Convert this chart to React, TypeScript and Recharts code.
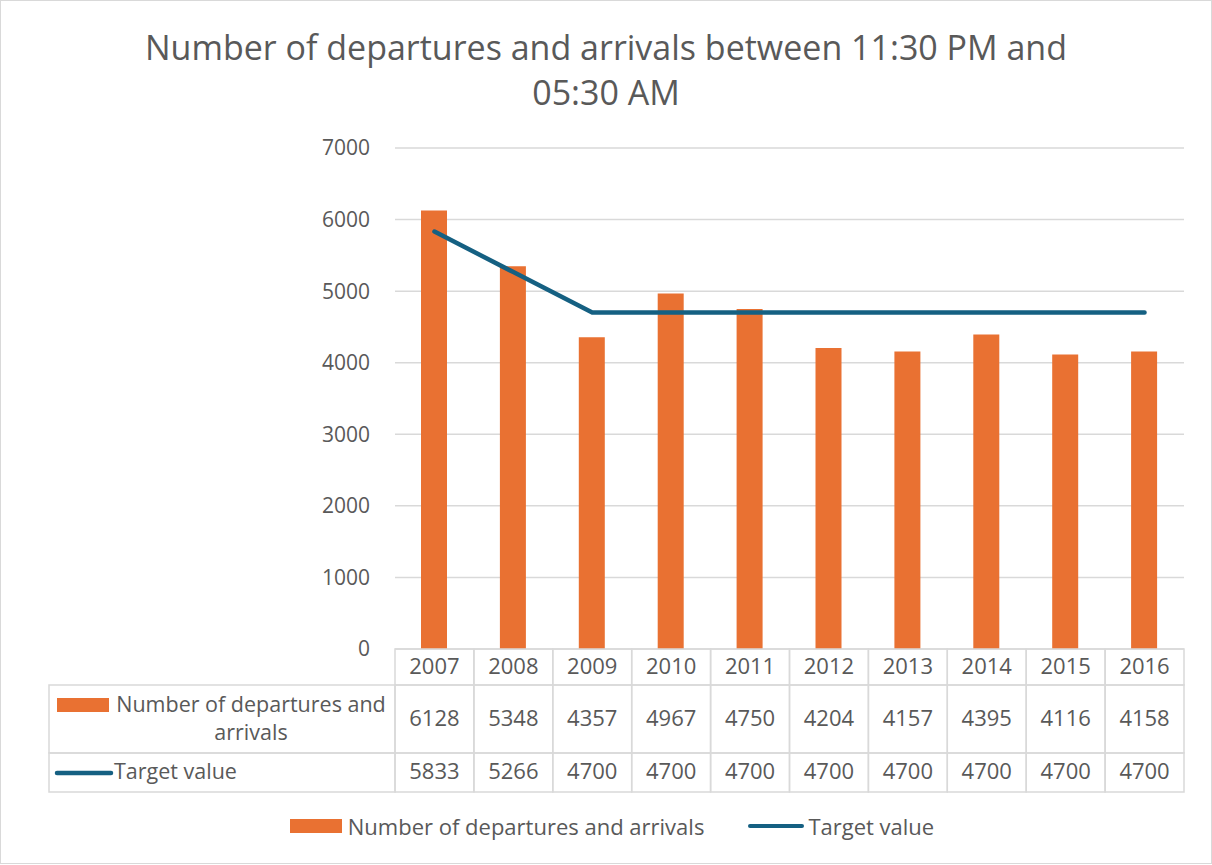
import { Bar, CartesianGrid, ComposedChart, Legend, Line, XAxis, YAxis } from "recharts";

const years = ["2007", "2008", "2009", "2010", "2011", "2012", "2013", "2014", "2015", "2016"];
const departuresArrivals = [6128, 5348, 4357, 4967, 4750, 4204, 4157, 4395, 4116, 4158];
const targetValues = [5833, 5266, 4700, 4700, 4700, 4700, 4700, 4700, 4700, 4700];
const yTicks = [0, 1000, 2000, 3000, 4000, 5000, 6000, 7000];
const seriesNames = ["Number of departures and arrivals", "Target value"];

const data = years.map((year, i) => ({
  year,
  departures: departuresArrivals[i],
  target: targetValues[i],
}));

const W = 1210;
const H = 862;
const PLOT_LEFT = 394;
const PLOT_RIGHT = 1183;
const COL_W = (PLOT_RIGHT - PLOT_LEFT) / years.length;

const ORANGE = "#E97132";
const BLUE = "#156082";
const GRID = "#d9d9d9";
const TEXT = "#595959";
const FONT = "'Open Sans', 'Liberation Sans', sans-serif";

// x axis tick draws one column of the data table under the plot
function TableTick(props: any) {
  const { x, y, payload } = props;
  const i = payload.index;
  const left = x - COL_W / 2;
  const cell = { fill: "none", stroke: GRID, strokeWidth: 1.5 };
  const txt = { fill: TEXT, fontSize: 22, fontFamily: FONT, dominantBaseline: "central" as const };
  return (
    <g>
      <rect x={left} y={y} width={COL_W} height={36} {...cell} />
      <rect x={left} y={y + 36} width={COL_W} height={68} {...cell} />
      <rect x={left} y={y + 104} width={COL_W} height={39} {...cell} />
      <text x={x} y={y + 16} textAnchor="middle" {...txt}>{years[i]}</text>
      <text x={x} y={y + 68} textAnchor="middle" {...txt}>{departuresArrivals[i]}</text>
      <text x={x} y={y + 121} textAnchor="middle" {...txt}>{targetValues[i]}</text>
      {i === 0 && (
        <g>
          <rect x={left - 346} y={y + 36} width={346} height={68} {...cell} />
          <rect x={left - 346} y={y + 104} width={346} height={39} {...cell} />
          <rect x={left - 338} y={y + 49} width={52} height={14} fill={ORANGE} />
          <text x={left - 144} y={y + 54} textAnchor="middle" {...txt} fontSize={21.5}>Number of departures and</text>
          <text x={left - 144} y={y + 82} textAnchor="middle" {...txt} fontSize={21.5}>arrivals</text>
          <line x1={left - 338} x2={left - 284} y1={y + 124} y2={y + 124} stroke={BLUE} strokeWidth={4.5} strokeLinecap="round" />
          <text x={left - 281} y={y + 121} textAnchor="start" {...txt} fontSize={21.5}>{seriesNames[1]}</text>
        </g>
      )}
    </g>
  );
}

function BottomLegend() {
  const label = { color: TEXT, fontSize: 22, fontFamily: FONT };
  return (
    <div style={{ display: "flex", justifyContent: "center", alignItems: "center", height: 30, paddingLeft: 12 }}>
      <span style={{ display: "inline-block", width: 52, height: 14, background: ORANGE, marginRight: 6 }} />
      <span style={label}>{seriesNames[0]}</span>
      <span style={{ display: "inline-block", width: 56, height: 4.5, borderRadius: 2, background: BLUE, marginLeft: 44, marginRight: 4 }} />
      <span style={label}>{seriesNames[1]}</span>
    </div>
  );
}

export default function App() {
  return (
    <div
      style={{
        position: "absolute",
        left: 0,
        top: 0,
        width: W,
        height: H,
        border: `1px solid ${GRID}`,
        background: "#fff",
        fontFamily: FONT,
      }}
    >
      <div
        style={{
          position: "absolute",
          left: 0,
          top: 24,
          width: W,
          textAlign: "center",
          color: TEXT,
          fontSize: 34,
          lineHeight: "45px",
          zIndex: 1,
        }}
      >
        Number of departures and arrivals between 11:30 PM and
        <br />
        05:30 AM
      </div>
      <ComposedChart
        width={W}
        height={H}
        data={data}
        margin={{ top: 147, right: W - PLOT_RIGHT, left: 300, bottom: 22 }}
      >
        <CartesianGrid vertical={false} stroke={GRID} strokeWidth={1.5} />
        <XAxis
          dataKey="year"
          axisLine={false}
          tickLine={false}
          tickSize={0}
          tickMargin={0}
          height={162}
          interval={0}
          tick={<TableTick />}
        />
        <YAxis
          width={PLOT_LEFT - 300}
          domain={[0, 7000]}
          ticks={yTicks}
          axisLine={false}
          tickLine={false}
          tickMargin={19}
          tick={{ fill: TEXT, fontSize: 21, fontFamily: FONT }}
        />
        <Legend
          verticalAlign="bottom"
          height={30}
          wrapperStyle={{ left: 0, width: W }}
          content={<BottomLegend />}
        />
        <Bar dataKey="departures" name={seriesNames[0]} fill={ORANGE} barSize={26} isAnimationActive={false} />
        <Line
          type="linear"
          dataKey="target"
          name={seriesNames[1]}
          stroke={BLUE}
          strokeWidth={4.5}
          strokeLinecap="round"
          dot={false}
          activeDot={false}
          isAnimationActive={false}
        />
      </ComposedChart>
    </div>
  );
}
